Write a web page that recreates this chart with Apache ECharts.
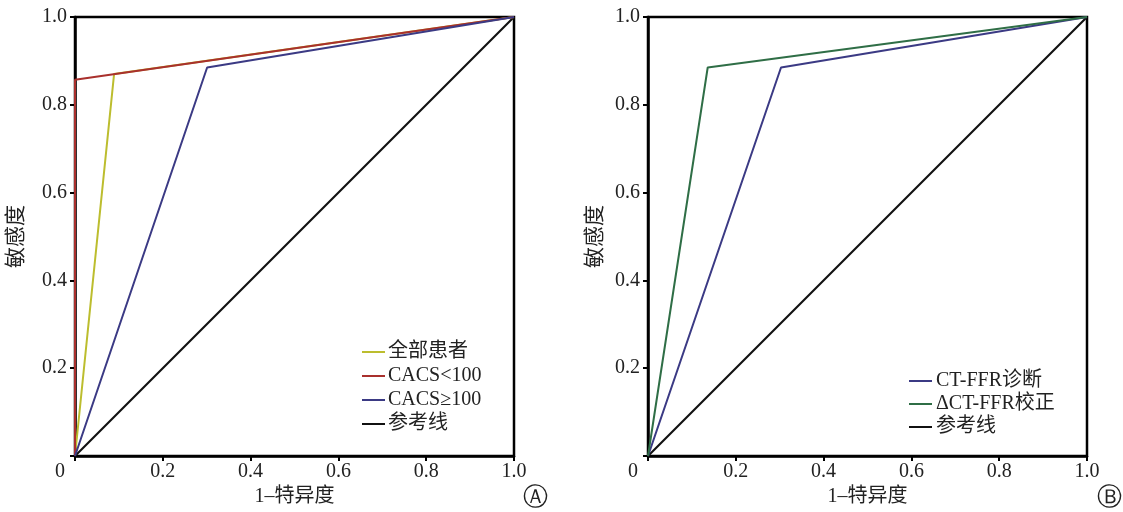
<!DOCTYPE html>
<html><head><meta charset="utf-8">
<script src="https://cdn.jsdelivr.net/npm/echarts@6/dist/echarts.min.js"></script>
<style>html,body{margin:0;padding:0;background:#fff}#c{width:1123px;height:512px}</style>
</head><body><div id="c"></div>
<script>
const ticks = [0, 0.2, 0.4, 0.6, 0.8, 1.0];
// Panel A
const allPatients = [[0, 0], [0.089, 0.870], [1, 1]];
const cacsLow = [[0, 0], [0, 0.857], [1, 1]];
const cacsHigh = [[0, 0], [0.301, 0.885], [1, 1]];
const refLine = [[0, 0], [1, 1]];
// Panel B
const ctffrDiag = [[0, 0], [0.303, 0.885], [1, 1]];
const dCtffrCorr = [[0, 0], [0.136, 0.885], [1, 1]];

const namesA = ['全部患者', 'CACS<100', 'CACS≥100', '参考线'];
const namesB = ['CT-FFR诊断', 'ΔCT-FFR校正', '参考线'];
const colors = {yellow: '#bcbd2e', red: '#a9302d', blue: '#3b3a84', green: '#2f6e46', black: '#111111'};

const FONT = '"Liberation Serif", "Noto Sans CJK SC", serif';
const chart = echarts.init(document.getElementById('c'));

function xAxis(idx, gap) {
  return {
    type: 'value', gridIndex: idx, min: 0, max: 1, interval: 0.2,
    name: '1–特异度', nameLocation: 'middle', nameGap: gap,
    nameTextStyle: {fontFamily: FONT, fontSize: 20, color: '#222'},
    axisLine: {show: true, onZero: false, lineStyle: {color: '#000', width: 2.5}},
    axisTick: {show: true, length: 5, lineStyle: {color: '#000', width: 2}},
    splitLine: {show: false},
    axisLabel: {
      fontFamily: FONT, fontSize: 20, color: '#222', margin: 6,
      formatter: v => v === 0 ? '{z|0}' : v.toFixed(1),
      rich: {z: {fontFamily: FONT, fontSize: 20, color: '#222', padding: [0, 30, 0, 0]}}
    }
  };
}
function yAxis(idx, gap) {
  return {
    type: 'value', gridIndex: idx, min: 0, max: 1, interval: 0.2,
    name: '敏感度', nameLocation: 'middle', nameGap: gap, nameRotate: 90,
    nameTextStyle: {fontFamily: FONT, fontSize: 21, color: '#222'},
    axisLine: {show: true, onZero: false, lineStyle: {color: '#000', width: 2.5}},
    axisTick: {show: true, length: 5, lineStyle: {color: '#000', width: 2}},
    splitLine: {show: false},
    axisLabel: {fontFamily: FONT, fontSize: 20, color: '#222', margin: 8,
      formatter: v => v === 0 ? '' : v.toFixed(1)}
  };
}
function line(name, data, color, xi, lw) {
  return {name, type: 'line', data, xAxisIndex: xi, yAxisIndex: xi, symbol: 'none',
    lineStyle: {color, width: lw || 2}, itemStyle: {color}, z: lw ? 1 : 3, animation: false};
}

chart.setOption({
  animation: false,
  grid: [
    {left: 75, top: 17, width: 439, height: 439, show: true, borderColor: '#000', borderWidth: 2.5, backgroundColor: 'transparent', outerBoundsMode: 'none', containLabel: false},
    {left: 648, top: 17, width: 439, height: 439, show: true, borderColor: '#000', borderWidth: 2.5, backgroundColor: 'transparent', outerBoundsMode: 'none', containLabel: false}
  ],
  xAxis: [xAxis(0, 31), xAxis(1, 31)],
  yAxis: [yAxis(0, 48), yAxis(1, 42)],
  legend: [
    {data: namesA, orient: 'vertical', left: 357, top: 337, itemWidth: 23, itemHeight: 2, itemGap: 4,
      icon: 'rect', textStyle: {fontFamily: FONT, fontSize: 20, color: '#222', padding: [0, 0, 0, -2]}},
    {data: namesB, orient: 'vertical', left: 904, top: 366, itemWidth: 23, itemHeight: 2, itemGap: 3,
      icon: 'rect', textStyle: {fontFamily: FONT, fontSize: 20, color: '#222', padding: [0, 0, 0, -1]}}
  ],
  graphic: [
    {type: 'text', left: 523, top: 486, style: {text: 'Ⓐ', font: '25px "DejaVu Sans"', fill: '#222'}},
    {type: 'text', left: 1097, top: 486, style: {text: 'Ⓑ', font: '25px "DejaVu Sans"', fill: '#222'}}
  ],
  series: [
    line(namesA[0], allPatients, colors.yellow, 0),
    line(namesA[1], cacsLow, colors.red, 0),
    line(namesA[2], cacsHigh, colors.blue, 0),
    line(namesA[3], refLine, colors.black, 0, 2.2),
    line(namesB[0], ctffrDiag, colors.blue, 1),
    line(namesB[1], dCtffrCorr, colors.green, 1),
    line(namesB[2], refLine, colors.black, 1, 2.2)
  ]
});
</script></body></html>
